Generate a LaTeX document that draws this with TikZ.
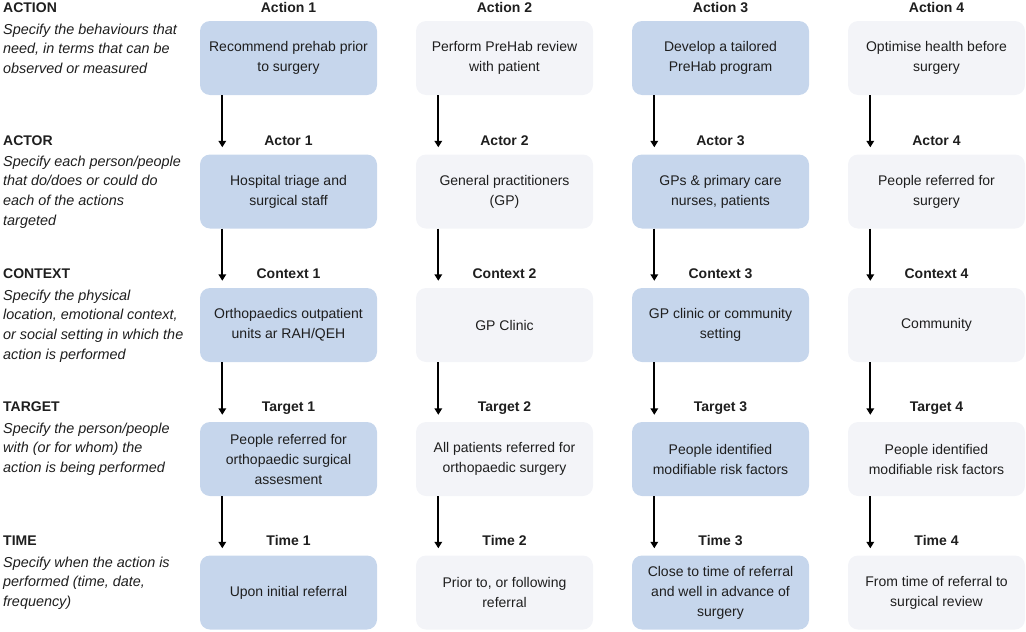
\documentclass[tikz,border=0pt]{standalone}
\usepackage{fontspec}
\setmainfont{Liberation Sans}
\usetikzlibrary{arrows.meta}
\definecolor{boxblue}{RGB}{198,214,236}
\definecolor{boxgrey}{RGB}{243,244,248}
\definecolor{textdark}{RGB}{30,30,30}
\begin{document}
\begin{tikzpicture}[x=1pt,y=-1pt,
  cell/.style={rectangle, rounded corners=10pt, minimum width=177pt, minimum height=74pt,
    inner sep=2pt, align=center, text=textdark, font=\fontsize{14}{20}\selectfont},
  bluecell/.style={cell, fill=boxblue},
  greycell/.style={cell, fill=boxgrey},
  head/.style={anchor=base, inner sep=0pt, text=textdark, font=\fontsize{14}{17}\selectfont\bfseries},
  rowtitle/.style={anchor=base west, inner sep=0pt, text=textdark, font=\fontsize{14}{17}\selectfont\bfseries},
  desc/.style={anchor=north west, inner sep=0pt, align=left, text=textdark, font=\fontsize{14.4}{19.7}\selectfont\itshape},
  flow/.style={-{Triangle[width=7.5pt,length=6.5pt]}, line width=2pt, draw=black}
]
\useasboundingbox (0,0) rectangle (1026,632);

% left descriptions
\node[rowtitle] (t1) at (3,12.5) {ACTION};
\node[desc] (d1) at (3,23.5) {Specify the behaviours that\\need, in terms that can be\\observed or measured};
\node[rowtitle] (t2) at (3,145) {ACTOR};
\node[desc] (d2) at (3,155.5) {Specify each person/people\\that do/does or could do\\each of the actions\\targeted};
\node[rowtitle] (t3) at (3,278.5) {CONTEXT};
\node[desc] (d3) at (3,289.5) {Specify the physical\\location, emotional context,\\or social setting in which the\\action is performed};
\node[rowtitle] (t4) at (3,411.5) {TARGET};
\node[desc] (d4) at (3,422.5) {Specify the person/people\\with (or for whom) the\\action is being performed};
\node[rowtitle] (t5) at (3,545.5) {TIME};
\node[desc] (d5) at (3,556.5) {Specify when the action is\\performed (time, date,\\frequency)};

% headings
\node[head] (h11) at (288.5,12.5) {Action 1};
\node[head] (h12) at (504.5,12.5) {Action 2};
\node[head] (h13) at (720.5,12.5) {Action 3};
\node[head] (h14) at (936.5,12.5) {Action 4};
\node[head] (h21) at (288.5,145) {Actor 1};
\node[head] (h22) at (504.5,145) {Actor 2};
\node[head] (h23) at (720.5,145) {Actor 3};
\node[head] (h24) at (936.5,145) {Actor 4};
\node[head] (h31) at (288.5,278.5) {Context 1};
\node[head] (h32) at (504.5,278.5) {Context 2};
\node[head] (h33) at (720.5,278.5) {Context 3};
\node[head] (h34) at (936.5,278.5) {Context 4};
\node[head] (h41) at (288.5,411.5) {Target 1};
\node[head] (h42) at (504.5,411.5) {Target 2};
\node[head] (h43) at (720.5,411.5) {Target 3};
\node[head] (h44) at (936.5,411.5) {Target 4};
\node[head] (h51) at (288.5,545.5) {Time 1};
\node[head] (h52) at (504.5,545.5) {Time 2};
\node[head] (h53) at (720.5,545.5) {Time 3};
\node[head] (h54) at (936.5,545.5) {Time 4};

% boxes
\node[bluecell] (b11) at (288.5,58) {Recommend prehab prior\\to surgery};
\node[greycell] (b12) at (504.5,58) {Perform PreHab review\\with patient};
\node[bluecell] (b13) at (720.5,58) {Develop a tailored\\PreHab program};
\node[greycell] (b14) at (936.5,58) {Optimise health before\\surgery};

\node[bluecell] (b21) at (288.5,191.5) {Hospital triage and\\surgical staff};
\node[greycell] (b22) at (504.5,191.5) {General practitioners\\(GP)};
\node[bluecell] (b23) at (720.5,191.5) {GPs \& primary care\\nurses, patients};
\node[greycell] (b24) at (936.5,191.5) {People referred for\\surgery};

\node[bluecell] (b31) at (288.5,325) {Orthopaedics outpatient\\units ar RAH/QEH};
\node[greycell] (b32) at (504.5,325) {GP Clinic};
\node[bluecell] (b33) at (720.5,325) {GP clinic or community\\setting};
\node[greycell] (b34) at (936.5,325) {Community};

\node[bluecell] (b41) at (288.5,459) {People referred for\\orthopaedic surgical\\assesment};
\node[greycell] (b42) at (504.5,459) {All patients referred for\\orthopaedic surgery};
\node[bluecell] (b43) at (720.5,459) {People identified\\modifiable risk factors};
\node[greycell] (b44) at (936.5,459) {People identified\\modifiable risk factors};

\node[bluecell] (b51) at (288.5,592.5) {Upon initial referral};
\node[greycell] (b52) at (504.5,592.5) {Prior to, or following\\referral};
\node[bluecell] (b53) at (720.5,592.5) {Close to time of referral\\and well in advance of\\surgery};
\node[greycell] (b54) at (936.5,592.5) {From time of referral to\\surgical review};

% connectors
\foreach \c in {1,2,3,4}{
  \foreach \r/\n in {1/2,2/3,3/4,4/5}{
    \draw[flow] ([xshift=22.5pt]b\r\c.south west) -- ([xshift=22.5pt,yshift=7pt]b\n\c.north west);
  }
}
\end{tikzpicture}
\end{document}
